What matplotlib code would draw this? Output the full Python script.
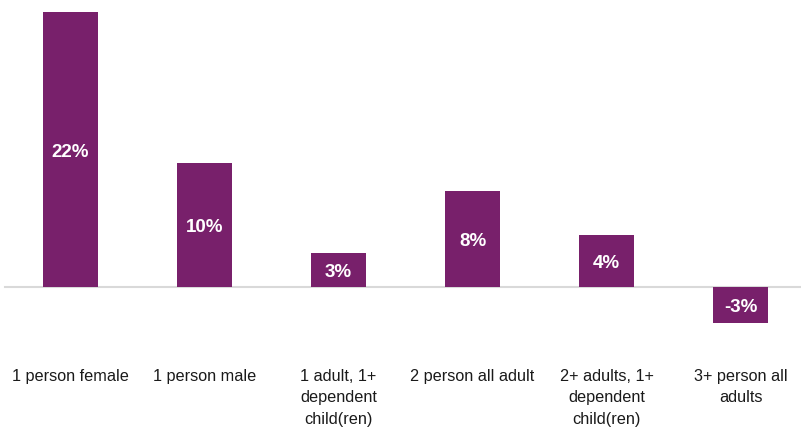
import matplotlib
matplotlib.use("Agg")
import matplotlib.pyplot as plt
from matplotlib import font_manager

categories = ["1 person female", "1 person male", "1 adult, 1+\ndependent\nchild(ren)",
              "2 person all adult", "2+ adults, 1+\ndependent\nchild(ren)", "3+ person all\nadults"]
values = [22.0, 9.9, 2.7, 7.7, 4.2, -2.9]
labels = ["22%", "10%", "3%", "8%", "4%", "-3%"]

names = {f.name for f in font_manager.fontManager.ttflist}
narrow = "Liberation Sans Narrow" if "Liberation Sans Narrow" in names else "Liberation Sans"
is_narrow = narrow == "Liberation Sans Narrow"

fig = plt.figure(figsize=(8.01, 4.32), dpi=100)
ax = fig.add_axes([0, 0, 1, 1])
ax.set_xlim((0 - 70.5) / 134, (801 - 70.5) / 134)
ax.set_ylim(-145 / 12.5, (432 - 145) / 12.5)
ax.axis("off")

purple = "#78206B"
x = list(range(len(values)))
ax.plot([(5 - 70.5) / 134, 6], [0, 0], color="#d9d9d9", lw=1.5, zorder=1)
ax.bar(x, values, width=0.41, color=purple, zorder=2)

for xi, v, lab in zip(x, values, labels):
    ax.annotate(lab, (xi, v / 2), xytext=(0, -2), textcoords="offset points",
                ha="center", va="center", color="white",
                fontsize=16 if is_narrow else 13.5, fontweight="bold", family=narrow, zorder=3)

for xi, c in zip(x, categories):
    ax.text(xi, -6.55, c, ha="center", va="top", multialignment="center",
            fontsize=13 if is_narrow else 11.7, family=narrow, color="#1a1a1a",
            linespacing=1.2 if is_narrow else 1.55)

fig.savefig("out.png", dpi=100)
